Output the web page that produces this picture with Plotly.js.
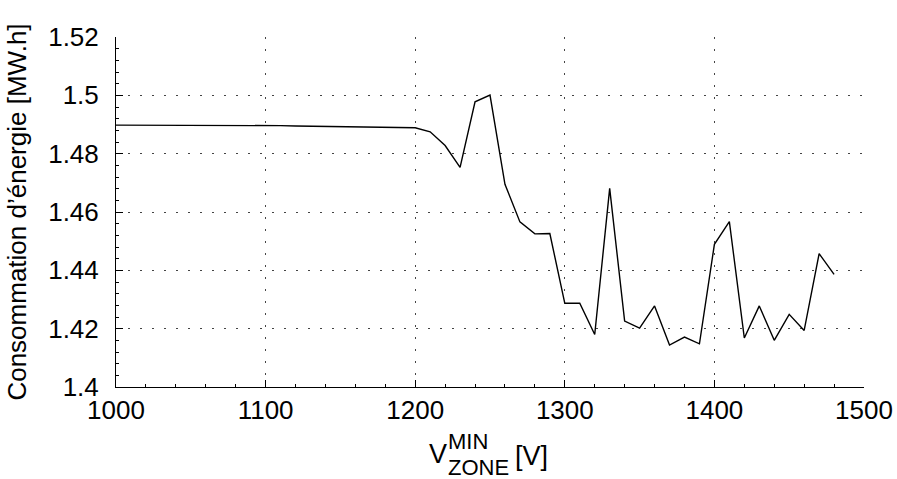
<!DOCTYPE html>
<html>
<head>
<meta charset="utf-8">
<script src="https://cdn.plot.ly/plotly-3.0.1.min.js"></script>
<style>html,body{margin:0;padding:0;background:#fff;}#chart{width:897px;height:479px;}</style>
</head>
<body>
<div id="chart"></div>
<script>
const voltage = [1000,1010,1020,1030,1040,1050,1060,1070,1080,1090,
                 1100,1110,1120,1130,1140,1150,1160,1170,1180,1190,
                 1200,1210,1220,1230,1240,1250,1260,1270,1280,1290,
                 1300,1310,1320,1330,1340,1350,1360,1370,1380,1390,
                 1400,1410,1420,1430,1440,1450,1460,1470,1480];
const energy = [1.4898,1.4898,1.4898,1.4898,1.4898,1.4898,1.4898,1.4897,1.4897,1.4897,
                1.4897,1.4896,1.4895,1.4894,1.4893,1.4892,1.4891,1.4891,1.4890,1.4890,
                1.4889,1.4875,1.4828,1.4753,1.4978,1.5001,1.4695,1.4566,1.4525,1.4526,
                1.4287,1.4287,1.4180,1.4681,1.4226,1.4202,1.4278,1.4144,1.4171,1.4148,
                1.4489,1.4567,1.4168,1.4278,1.4160,1.4249,1.4194,1.4457,1.4386];
const xTicks = [1000,1100,1200,1300,1400,1500];
const yTicks = [1.4,1.42,1.44,1.46,1.48,1.5,1.52];
const yTickText = ['1.4','1.42','1.44','1.46','1.48','1.5','1.52'];
const yTitle = 'Consommation d\u2019énergie [MW.h]';

const FONT = 'Liberation Sans, Arial, Helvetica, sans-serif';
const trace = {x: voltage, y: energy, type: 'scatter', mode: 'lines',
  line: {color: '#000', width: 1.4}, hoverinfo: 'skip'};

const L = 116, R = 33, T = 37, B = 92, PW = 897 - L - R, PH = 479 - T - B;
const px = v => (v - L) / PW;
const py = v => (479 - B - v) / PH;

const layout = {
  width: 897, height: 479,
  margin: {l: L, r: R, t: T, b: B, pad: 0},
  paper_bgcolor: '#fff', plot_bgcolor: '#fff',
  showlegend: false,
  font: {family: FONT, color: '#000', size: 26},
  xaxis: {range: [1000, 1500], tickvals: xTicks, ticktext: xTicks.map(String),
    ticks: 'inside', ticklen: 7, tickcolor: '#000', tickwidth: 1,
    showline: true, linecolor: '#000', linewidth: 1, mirror: false,
    showgrid: true, gridcolor: '#444', gridwidth: 1, griddash: '2px,10px',
    zeroline: false, tickfont: {size: 26, family: FONT},
    minor: {ticks: 'inside', ticklen: 3, dtick: 20, tickcolor: '#000', showgrid: false},
    fixedrange: true},
  yaxis: {range: [1.4, 1.52], tickvals: yTicks, ticktext: yTickText,
    ticks: 'inside', ticklen: 7, tickcolor: '#000', tickwidth: 1,
    showline: true, linecolor: '#000', linewidth: 1, mirror: false,
    showgrid: true, gridcolor: '#444', gridwidth: 1, griddash: '2px,10px',
    zeroline: false, tickfont: {size: 26, family: FONT}, ticklabelstandoff: 11,
    minor: {ticks: 'inside', ticklen: 3, dtick: 0.004, tick0: 1.4, tickcolor: '#000', showgrid: false},
    title: {text: yTitle, font: {size: 26, family: FONT}, standoff: 14},
    fixedrange: true},
  annotations: [
    {text: 'V', xref: 'paper', yref: 'paper', x: px(427), y: py(453.5), xanchor: 'left', yanchor: 'middle', showarrow: false, font: {size: 27, family: FONT}},
    {text: 'MIN', xref: 'paper', yref: 'paper', x: px(445.5), y: py(442), xanchor: 'left', yanchor: 'middle', showarrow: false, font: {size: 22, family: FONT}},
    {text: 'ZONE', xref: 'paper', yref: 'paper', x: px(445.5), y: py(467.5), xanchor: 'left', yanchor: 'middle', showarrow: false, font: {size: 22, family: FONT}},
    {text: '[V]', xref: 'paper', yref: 'paper', x: px(513), y: py(455.5), xanchor: 'left', yanchor: 'middle', showarrow: false, font: {size: 27, family: FONT}}
  ]
};

Plotly.newPlot('chart', [trace], layout, {staticPlot: true, displayModeBar: false});
</script>
</body>
</html>
